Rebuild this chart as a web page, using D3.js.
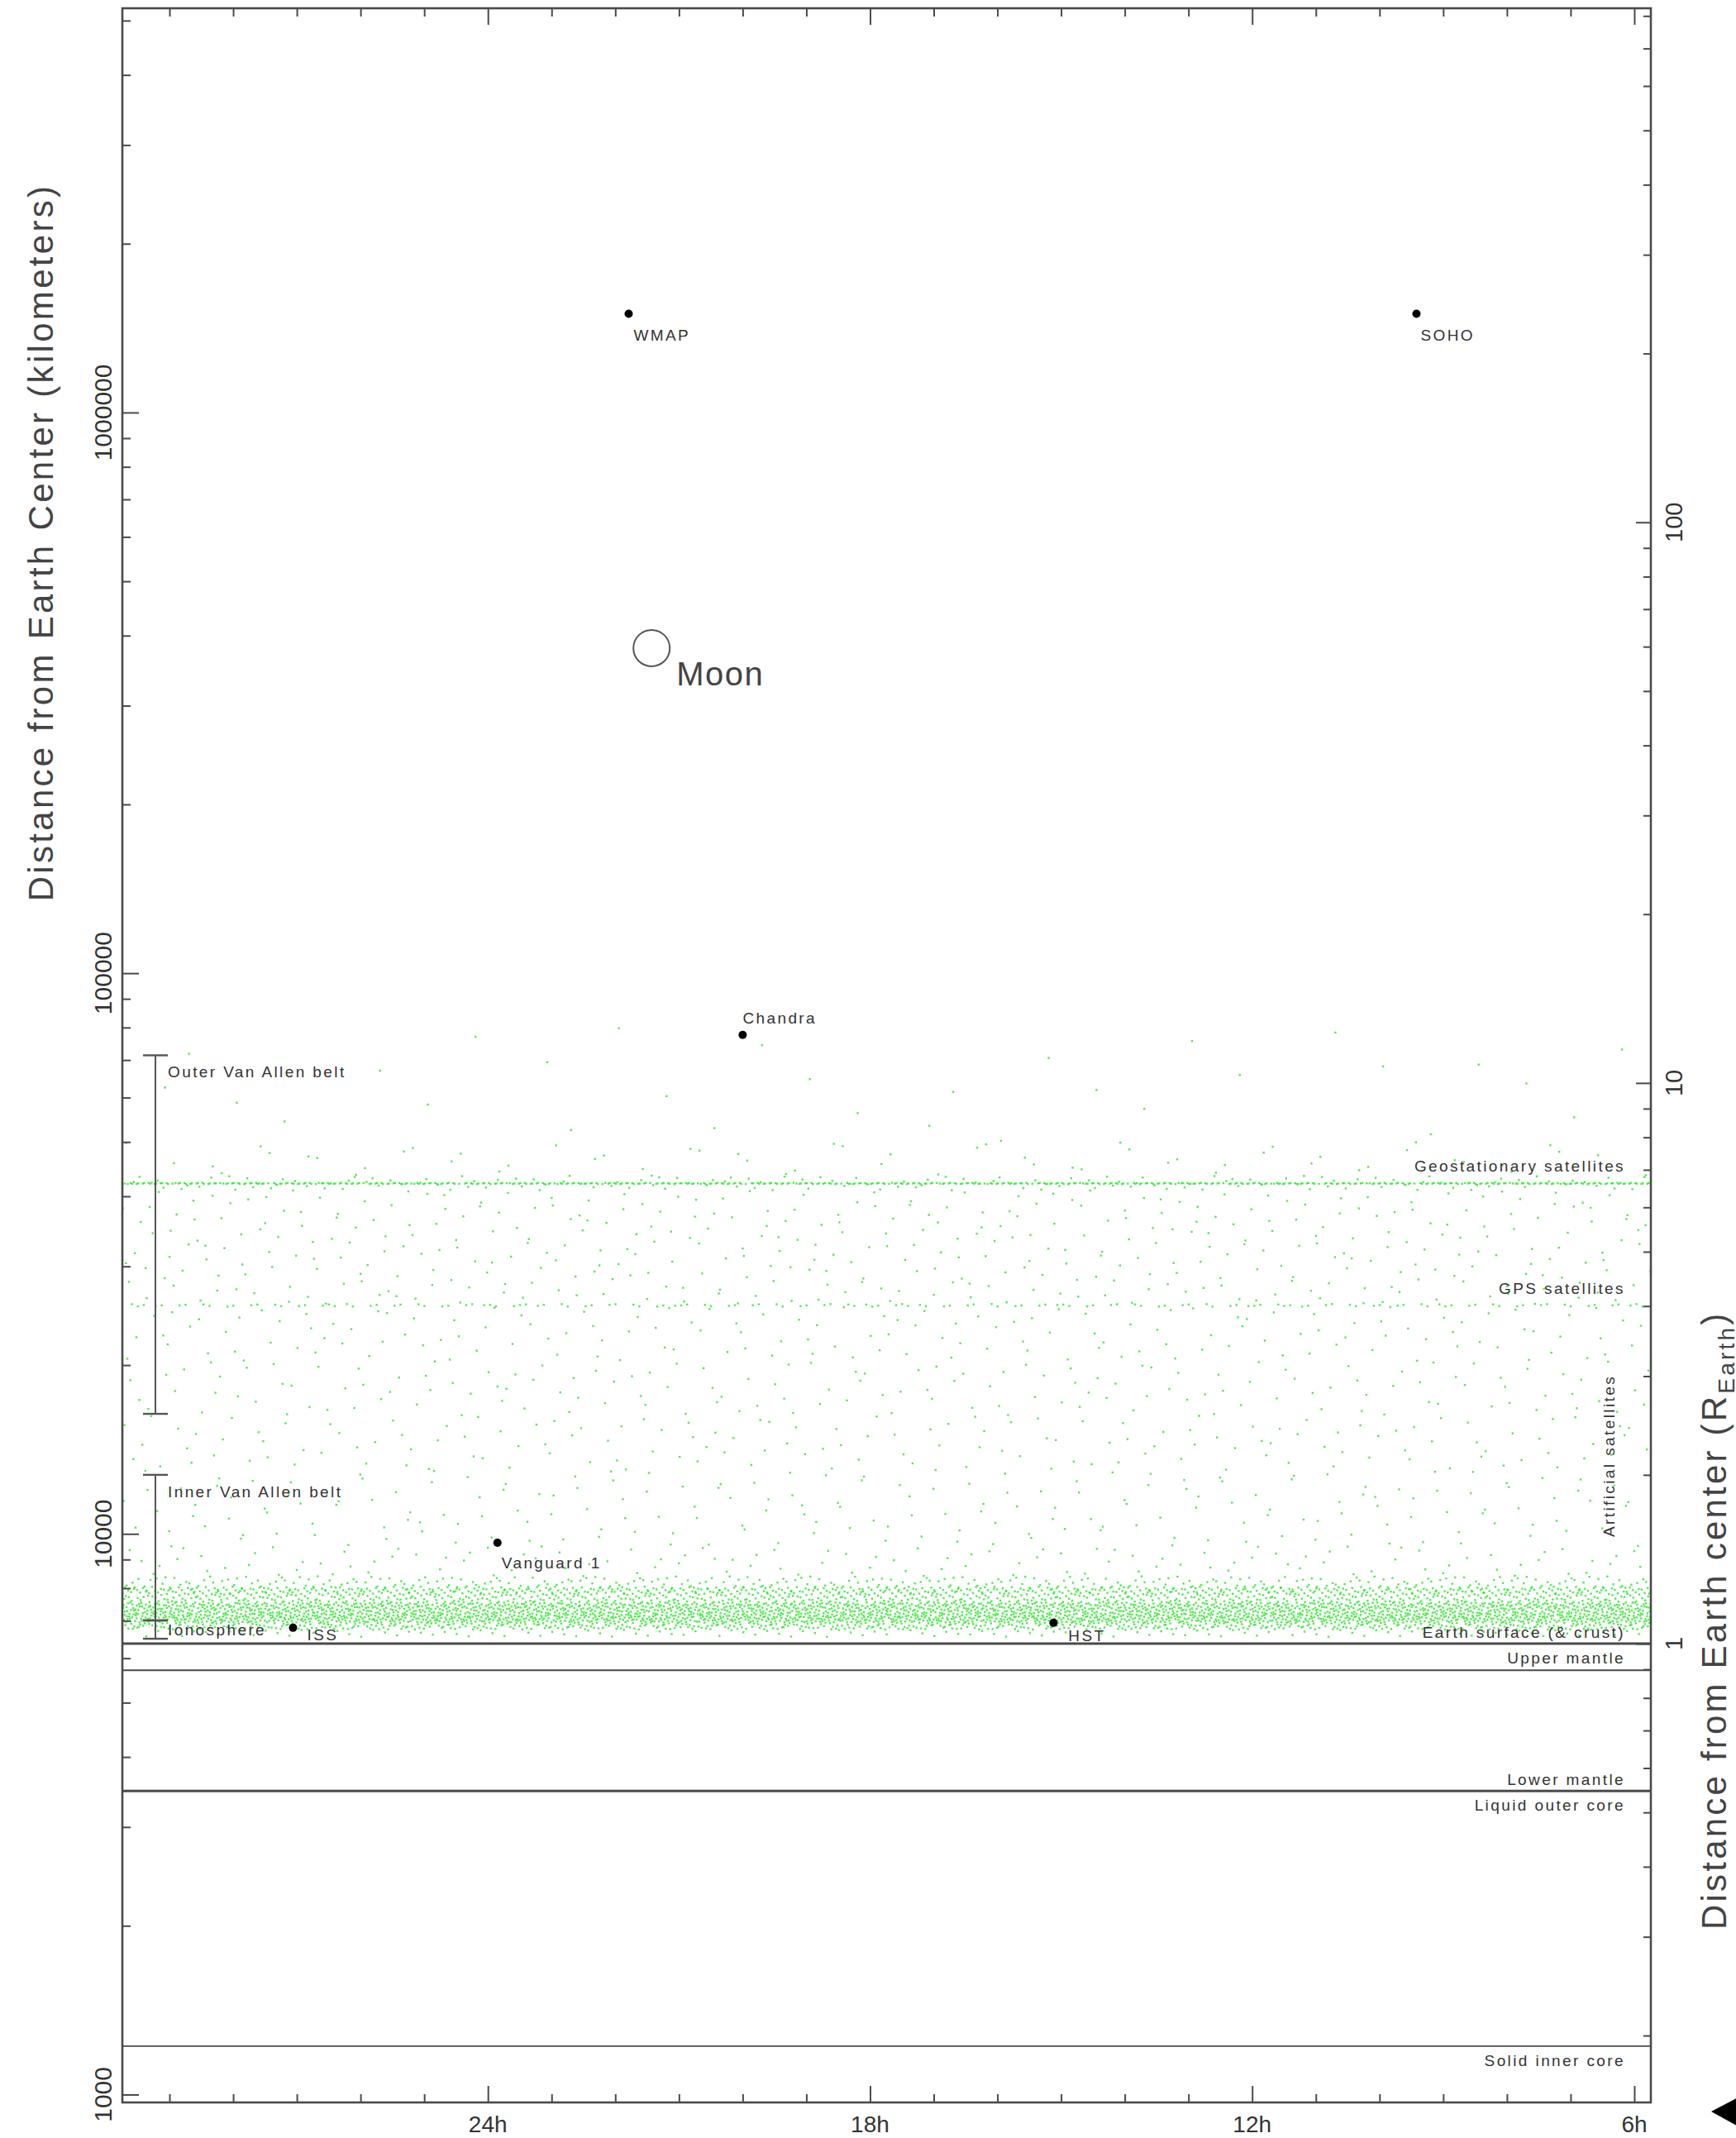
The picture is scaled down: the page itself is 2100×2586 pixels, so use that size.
<!DOCTYPE html>
<html>
<head>
<meta charset="utf-8">
<script src="https://cdn.jsdelivr.net/npm/d3@7"></script>
<style>
html, body { margin: 0; padding: 0; background: #fff; }
svg { display: block; font-family: 'Liberation Sans', Arial, sans-serif; }
</style>
</head>
<body>
<svg id="chart" width="2100" height="2586"></svg>
<script>
// ---- values ----

// right ascension along the bottom (hours), shown as one 24h window
const raLabels = ['24h', '18h', '12h', '6h'];
const raLabelHours = [24, 18, 12, 6];
const raRange = [29.74, 5.74];

// distance from Earth centre (km), log axis on the left, R_Earth on the right
const kmRange = [968, 5.26e6];
const kmLabels = [1000, 10000, 100000, 1000000];
const earthRadiusKm = 6371;
const reLabels = [1, 10, 100];

// named objects (RA in hours, distance in km)
const objNames = ['WMAP', 'SOHO', 'Chandra', 'Vanguard 1', 'ISS', 'HST'];
const objRA = [21.79, 9.42, 20.0, 23.85, 3.06, 15.12];
const objKm = [1.5e6, 1.5e6, 77600, 9640, 6800, 6940];

const moonRA = 21.43;
const moonKm = 380000;

// Earth interior boundaries (km from centre)
const layerKm = [6371, 5711, 3480, 1220];
const layerAbove = ['Earth surface (& crust)', '', 'Lower mantle', ''];
const layerBelow = ['Upper mantle', '', 'Liquid outer core', 'Solid inner core'];

// ranges drawn as bars at the left
const zoneNames = ['Outer Van Allen belt', 'Inner Van Allen belt', 'Ionosphere'];
const zoneLoKm = [16371, 7008, 6500];
const zoneHiKm = [71371, 12742, 7008];

// labelled orbit shells
const shellNames = ['Geostationary satellites', 'GPS satellites'];
const shellKm = [42164, 25560];

// artificial satellites: number of dots seen in each distance band (km)
const satBandLo    = [6550, 6750, 6950, 7200, 7550, 7800, 8050, 8400, 9500, 13000, 25420, 25700, 41000, 42050, 43500, 50000];
const satBandHi    = [6750, 6950, 7200, 7550, 7800, 8050, 8400, 9500, 13000, 25420, 25700, 41000, 43500, 42280, 50000, 80000];
const satBandCount = [120, 600, 1300, 1500, 500, 650, 250, 120, 200, 450, 140, 400, 150, 500, 60, 30];

// ---- layout ----
const plotL = 148, plotR = 1997, plotT = 10, plotB = 2543;
const ink = '#4a4a4a', textInk = '#333';

const svg = d3.select('#chart');

const x = d3.scaleLinear().domain(raRange).range([plotL, plotR]);
const y = d3.scaleLog().domain(kmRange).range([plotB, plotT]);
const yRe = d3.scaleLog().domain(kmRange.map(d => d / earthRadiusKm)).range([plotB, plotT]);
const wrap = h => (h < raRange[1] ? h + 24 : h);

// low discrepancy sequence, spreads the dots of a band evenly
function halton(i, b) {
	let f = 1, r = 0;
	while (i > 0) {
		f /= b;
		r += f * (i % b);
		i = Math.floor(i / b);
	}
	return r;
}

const satDots = [];
let k = 1;
satBandLo.forEach((lo, b) => {
	const hi = satBandHi[b];
	for (let n = 0; n < satBandCount[b]; n++, k++) {
		satDots.push({
			ra: raRange[1] + 24 * halton(k, 2),
			km: lo * Math.pow(hi / lo, halton(k, 3))
		});
	}
});

svg.append('defs').append('clipPath').attr('id', 'plot')
	.append('rect').attr('x', plotL).attr('y', plotT).attr('width', plotR - plotL).attr('height', plotB - plotT);

// satellites
svg.append('g').attr('clip-path', 'url(#plot)')
	.selectAll('rect')
	.data(satDots)
	.join('rect')
	.attr('x', d => x(d.ra) - 1.2)
	.attr('y', d => y(d.km) - 1.2)
	.attr('width', 2.4)
	.attr('height', 2.4)
	.attr('fill', '#1ee01e')
	.attr('opacity', 0.75);

// ---- axes (ticks point inward) ----
function styleAxis(g) {
	g.select('.domain').remove();
	g.selectAll('.tick line').attr('stroke', ink).attr('stroke-width', 2);
}

const minorKm = y.ticks().filter(d => !kmLabels.includes(d));
svg.append('g').attr('transform', `translate(${plotL},0)`)
	.call(d3.axisRight(y).tickValues(minorKm).tickSize(10).tickFormat(''))
	.call(styleAxis);
svg.append('g').attr('transform', `translate(${plotL},0)`)
	.call(d3.axisRight(y).tickValues(kmLabels).tickSize(20).tickFormat(''))
	.call(styleAxis);

const minorRe = yRe.ticks().filter(d => !reLabels.includes(d));
svg.append('g').attr('transform', `translate(${plotR},0)`)
	.call(d3.axisLeft(yRe).tickValues(minorRe).tickSize(9).tickFormat(''))
	.call(styleAxis);
svg.append('g').attr('transform', `translate(${plotR},0)`)
	.call(d3.axisLeft(yRe).tickValues(reLabels).tickSize(18).tickFormat(''))
	.call(styleAxis);

const hours = d3.range(6, 30);
const minorHours = hours.filter(h => h % 6 !== 0);
const majorHours = hours.filter(h => h % 6 === 0);
[[d3.axisTop, plotB], [d3.axisBottom, plotT]].forEach(([axis, pos]) => {
	svg.append('g').attr('transform', `translate(0,${pos})`)
		.call(axis(x).tickValues(minorHours).tickSize(10).tickFormat(''))
		.call(styleAxis);
	svg.append('g').attr('transform', `translate(0,${pos})`)
		.call(axis(x).tickValues(majorHours).tickSize(20).tickFormat(''))
		.call(styleAxis);
});

svg.append('rect')
	.attr('x', plotL).attr('y', plotT)
	.attr('width', plotR - plotL).attr('height', plotB - plotT)
	.attr('fill', 'none').attr('stroke', ink).attr('stroke-width', 2.6);

// tick labels
svg.append('g').selectAll('text')
	.data(raLabelHours)
	.join('text')
	.attr('x', d => x(d))
	.attr('y', 2579)
	.attr('text-anchor', 'middle')
	.attr('font-size', 28)
	.attr('fill', textInk)
	.text((d, i) => raLabels[i]);

svg.append('g').selectAll('text')
	.data(kmLabels)
	.join('text')
	.attr('transform', d => `translate(135,${y(d)}) rotate(-90)`)
	.attr('text-anchor', 'middle')
	.attr('font-size', 30)
	.attr('fill', textInk)
	.text(d => d);

svg.append('g').selectAll('text')
	.data(reLabels)
	.join('text')
	.attr('transform', d => `translate(2035,${yRe(d)}) rotate(-90)`)
	.attr('text-anchor', 'middle')
	.attr('font-size', 29)
	.attr('fill', textInk)
	.text(d => d);

// axis titles
svg.append('text')
	.attr('transform', 'translate(64,656) rotate(-90)')
	.attr('text-anchor', 'middle')
	.attr('font-size', 42)
	.attr('letter-spacing', 3.3)
	.attr('fill', '#444')
	.text('Distance from Earth Center (kilometers)');

const rt = svg.append('text')
	.attr('transform', 'translate(2088,2334) rotate(-90)')
	.attr('font-size', 42)
	.attr('letter-spacing', 3.2)
	.attr('fill', '#444');
rt.append('tspan').text('Distance from Earth center (R');
rt.append('tspan').attr('font-size', 28).attr('dy', 10).text('Earth');
rt.append('tspan').attr('dy', -10).text(')');

// the arrow head at the bottom right corner
svg.append('path')
	.attr('d', 'M2070,2554 L2112,2532 L2112,2577 Z')
	.attr('fill', '#000');

// ---- Earth interior ----
const small = sel => sel.attr('font-size', 19).attr('letter-spacing', 2.4).attr('fill', textInk);

svg.append('g').selectAll('line')
	.data(layerKm)
	.join('line')
	.attr('x1', plotL).attr('x2', plotR)
	.attr('y1', d => y(d)).attr('y2', d => y(d))
	.attr('stroke', ink)
	.attr('stroke-width', (d, i) => (i % 2 === 0 ? 3 : 1.8));

const layerText = [];
layerKm.forEach((km, i) => {
	if (layerAbove[i]) layerText.push({ text: layerAbove[i], y: y(km) - 7 });
	if (layerBelow[i]) layerText.push({ text: layerBelow[i], y: y(km) + 24 });
});
svg.append('g').selectAll('text')
	.data(layerText)
	.join('text')
	.attr('x', 1966)
	.attr('y', d => d.y)
	.attr('text-anchor', 'end')
	.call(small)
	.text(d => d.text);

// orbit shells
svg.append('g').selectAll('text')
	.data(shellKm)
	.join('text')
	.attr('x', 1966)
	.attr('y', d => y(d) - 14)
	.attr('text-anchor', 'end')
	.call(small)
	.text((d, i) => shellNames[i]);

svg.append('text')
	.attr('transform', 'translate(1953,1761) rotate(-90)')
	.attr('text-anchor', 'middle')
	.call(small)
	.text('Artificial satellites');

// ---- belts and ionosphere ----
const barX = 188, capW = 15;
const zones = svg.append('g').selectAll('g')
	.data(zoneNames)
	.join('g');
zones.append('line')
	.attr('x1', barX).attr('x2', barX)
	.attr('y1', (d, i) => y(zoneHiKm[i]))
	.attr('y2', (d, i) => y(zoneLoKm[i]))
	.attr('stroke', '#555').attr('stroke-width', 2);
zones.append('line')
	.attr('x1', barX - capW).attr('x2', barX + capW)
	.attr('y1', (d, i) => y(zoneHiKm[i])).attr('y2', (d, i) => y(zoneHiKm[i]))
	.attr('stroke', '#555').attr('stroke-width', 2.4);
zones.append('line')
	.attr('x1', barX - capW).attr('x2', barX + capW)
	.attr('y1', (d, i) => y(zoneLoKm[i])).attr('y2', (d, i) => y(zoneLoKm[i]))
	.attr('stroke', '#555').attr('stroke-width', 2.4);
zones.append('text')
	.attr('x', barX + 15)
	.attr('y', (d, i) => Math.min(y(zoneHiKm[i]) + 20, (y(zoneHiKm[i]) + y(zoneLoKm[i])) / 2))
	.attr('dy', '0.35em')
	.call(small)
	.text(d => d);

// ---- named objects ----
const labelOffset = {
	'WMAP': [6, 32], 'SOHO': [5, 32], 'Chandra': [0, -14],
	'Vanguard 1': [5, 31], 'ISS': [17, 15], 'HST': [18, 22]
};
const objs = svg.append('g').selectAll('g')
	.data(objNames)
	.join('g')
	.attr('transform', (d, i) => `translate(${x(wrap(objRA[i]))},${y(objKm[i])})`);
objs.append('circle').attr('r', 5).attr('fill', '#000');
objs.append('text')
	.attr('x', d => labelOffset[d][0])
	.attr('y', d => labelOffset[d][1])
	.call(small)
	.text(d => d);

const moon = svg.append('g')
	.attr('transform', `translate(${x(wrap(moonRA))},${y(moonKm)})`);
moon.append('circle').attr('r', 22).attr('fill', 'none').attr('stroke', '#555').attr('stroke-width', 2);
moon.append('text')
	.attr('x', 30).attr('y', 45)
	.attr('font-size', 40)
	.attr('letter-spacing', 1.5)
	.attr('fill', '#444')
	.text('Moon');
</script>
</body>
</html>
